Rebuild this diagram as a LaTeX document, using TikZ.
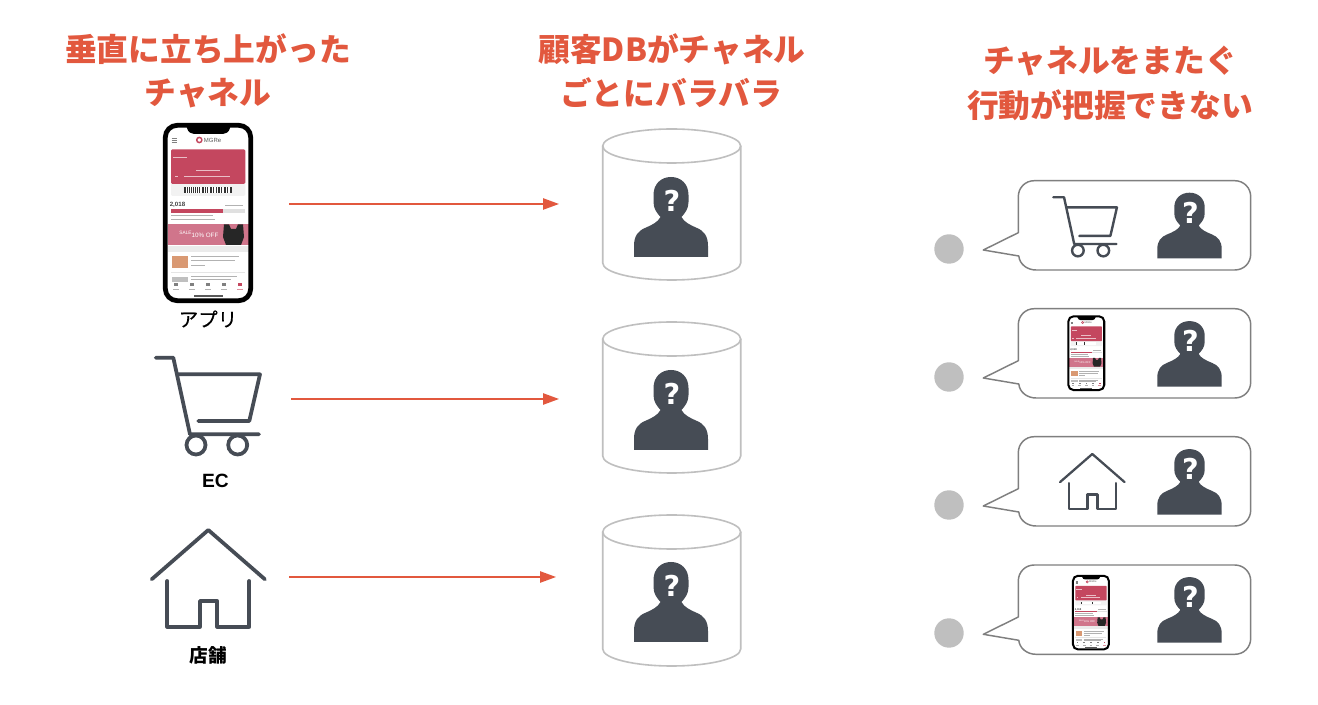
\documentclass[tikz,border=0pt]{standalone}
\usepackage{fontspec}
\usetikzlibrary{arrows.meta}
\newfontfamily\jpfont{Noto Sans CJK JP}
\newfontfamily\jpmedium[FakeBold=0.35]{Noto Sans CJK JP}
\newfontfamily\latinfont{Liberation Sans}
\newfontfamily\qfont{DejaVu Sans}
\definecolor{accent}{HTML}{E2583E}
\definecolor{inkdark}{HTML}{464C55}
\definecolor{cylgrey}{HTML}{BFBFBF}
\definecolor{bubblegrey}{HTML}{7F7F7F}
\definecolor{cardred}{HTML}{C4475F}
\definecolor{bannerpink}{HTML}{D0758B}
\newcommand{\phonescale}{1}
\tikzset{
  headline/.style={text=accent,font=\jpfont\bfseries\fontsize{23.8pt}{28pt}\selectfont,inner sep=0pt,anchor=center},
  channellabel/.style={text=black,inner sep=0pt,anchor=center},
  flow/.style={draw=accent,line width=1.1pt,-{Triangle[length=12pt,width=8.5pt]}},
  tinytext/.style={inner sep=0pt,transform shape,font=\latinfont\fontsize{4.5pt}{5pt}\selectfont},
  phoneline/.style={draw=black!30,line width=\phonescale*0.4pt},
}
% Silhouette with a question mark; origin at the centre of its base
\newcommand{\personfig}[5]{%
  \begin{scope}[shift={(#2,#3)},xscale=#4,yscale=#5]
    \fill[inkdark] (-37,0) -- (-37,-11)
      .. controls (-37,-21) and (-33,-26) .. (-26,-29)
      .. controls (-19,-32) and (-13,-35) .. (-10.5,-40)
      .. controls (-14,-44) and (-17.5,-48) .. (-17.5,-55)
      -- (-17.5,-62)
      .. controls (-17.5,-73) and (-10,-80) .. (0,-80)
      .. controls (10,-80) and (17.5,-73) .. (17.5,-62)
      -- (17.5,-55)
      .. controls (17.5,-48) and (14,-44) .. (10.5,-40)
      .. controls (13,-35) and (19,-32) .. (26,-29)
      .. controls (33,-26) and (37,-21) .. (37,-11)
      -- (37,0) -- cycle;
    \node[inner sep=0pt,text=white,font=\qfont\bfseries\fontsize{21.5pt}{24pt}\selectfont] (#1q) at (1,-56) {?};
  \end{scope}}
% Database cylinder; the argument is its vertical offset
\newcommand{\dbcylinder}[2]{%
  \begin{scope}[yshift=#2*-0.75pt]
    \draw[cylgrey,line width=1.2pt] (602.7,146) -- (602.7,263)
      arc[start angle=180,end angle=0,x radius=69,y radius=17] -- (740.7,146);
    \draw[cylgrey,line width=1.2pt] (671.7,146) ellipse[x radius=69,y radius=17];
  \end{scope}}
% Shopping cart; origin at the free end of the handle
\newcommand{\cartfig}[5]{%
  \begin{scope}[shift={(#2,#3)},scale=#4]
    \draw[inkdark,line width=#5,line cap=round,line join=round]
      (0,0) -- (17.6,0) -- (34.3,76.6) -- (103.3,76.6);
    \draw[inkdark,line width=#5,line cap=round,line join=round]
      (22,16.6) -- (104.3,16.6) -- (93.6,63.3) -- (42.6,63.3);
    \draw[inkdark,line width=#5] (40.3,87.3) circle[radius=9.5];
    \draw[inkdark,line width=#5] (82,87.3) circle[radius=9.5];
  \end{scope}}
% House outline; origin at the apex of the roof
\newcommand{\housefig}[5]{%
  \begin{scope}[shift={(#2,#3)},scale=#4]
    \draw[inkdark,line width=#5,line cap=round,line join=round]
      (-56.6,49.3) -- (0,0) -- (56.6,49.3);
    \draw[inkdark,line width=#5,line cap=round,line join=round]
      (-41,51) -- (-41,96.7) -- (-8.3,96.7) -- (-8.3,71) -- (9,71) -- (9,96.7) -- (41,96.7) -- (41,51);
  \end{scope}}
% Smartphone showing the membership app; origin at the top-left of the body
\newcommand{\phonefig}[4]{%
  \begin{scope}[shift={(#2,#3)},scale=#4]
    \renewcommand{\phonescale}{#4}
    \fill[white] (4,4) rectangle (86,176);
    % card
    \fill[black!5,rounded corners=#4*1pt] (8,50) rectangle (82.3,73);
    \fill[cardred,rounded corners=#4*1pt] (8,26.3) rectangle (82.3,61);
    \fill[black!80] (21.3,64.3) rectangle (68.7,70.3);
    \foreach \bx in {23,24.5,27,29,30.5,33,35,36.5,38,41,43,44.5,46,49,50.5,52,54,57,58.5,60,63,64.5,66}
      \fill[white] (\bx,64.3) rectangle ++(0.45,6);
    \foreach \by/\bx/\bw in {34/10/14, 47/33/24, 53/21/46, 53/12/3}
      \fill[white!65!cardred] (\bx,\by) rectangle ++(\bw,0.8);
    % header
    \draw[cardred,line width=#4*1.1pt] (36.3,17) circle[radius=2.6];
    \node[tinytext,text=black!65] (#1logo) at (49.5,17) {MGRe};
    \foreach \by in {15,17,19} \draw[black!50,line width=#4*0.3pt] (8.5,\by) -- (14,\by);
    % points
    \node[tinytext,text=black!75,font=\latinfont\bfseries\fontsize{4.6pt}{5pt}\selectfont] (#1pts) at (14.5,82.3) {2,018};
    \draw[phoneline] (62,82.3) -- (80,82.3);
    \fill[black!12] (8,86.3) rectangle (82.3,89.7);
    \fill[cardred] (8,86.3) rectangle (59.7,89.7);
    \draw[phoneline] (8,92.3) -- (50,92.3);
    \draw[phoneline] (8,96.3) -- (52,96.3);
    % banner
    \fill[bannerpink] (4.5,101.3) rectangle (85.5,122);
    \fill[black!85] (61,101.3) -- (66,101.3) -- (68,106) -- (73,106) -- (75,101.3) -- (80,101.3) -- (81,114) -- (78,122) -- (63,122) -- (60,114) -- cycle;
    \node[tinytext,text=white,font=\latinfont\fontsize{3.6pt}{4pt}\selectfont] (#1sale) at (22.5,110.3) {SALE};
    \node[tinytext,text=white,font=\latinfont\fontsize{4.7pt}{5pt}\selectfont] (#1off) at (42,112) {10\% OFF};
    % articles
    \fill[black!8] (4.5,123) rectangle (85.5,128.7);
    \fill[brown!60!pink] (8.7,132.7) rectangle (24.7,144.7);
    \foreach \by/\bw in {133.7/48, 137.7/44, 142.7/14}
      \draw[phoneline] (28,\by) -- ++(\bw,0);
    \draw[black!10,line width=#4*0.3pt] (8,149.3) -- (82,149.3);
    \fill[black!25] (8.7,153.7) rectangle (24.7,158.7);
    \draw[phoneline] (28,153) -- ++(46,0);
    \draw[phoneline] (28,156.5) -- ++(40,0);
    % tab bar
    \fill[white] (4.5,158.7) rectangle (85.5,171);
    \foreach \bx in {13,29.3,45.3,61.3}{
      \fill[black!50] (\bx-2,160) rectangle ++(4,3.4);
      \draw[black!30,line width=#4*0.3pt] (\bx-3,166.3) -- ++(6,0);}
    \fill[cardred] (75,160) rectangle ++(4,3.4);
    \draw[cardred!60,line width=#4*0.3pt] (74,166.3) -- ++(6,0);
    \draw[black!65,line width=#4*1.2pt] (31,173) -- (59.7,173);
    % body with notch
    \fill[black] (23.7,4) -- (67,4) -- (67,5)
      .. controls (66,9) and (63,11) .. (60,11) -- (31,11)
      .. controls (28,11) and (25,9) .. (24,5) -- cycle;
    \draw[black,line width=#4*3.6pt,rounded corners=#4*9pt] (2.3,2.3) rectangle (87.7,177.7);
  \end{scope}}
% Speech bubble; the argument is the vertical offset of the bubble
\newcommand{\bubblefig}[1]{%
  \begin{scope}[yshift=#1*-0.75pt]
    \draw[bubblegrey,line width=1.1pt,line join=round] (1018.3,232.7) -- (1018.3,196.7)
      .. controls (1018.3,188) and (1025,180.7) .. (1034.3,180.7) -- (1234.7,180.7)
      .. controls (1244,180.7) and (1250.7,188) .. (1250.7,196.7) -- (1250.7,254)
      .. controls (1250.7,263) and (1244,270) .. (1234.7,270) -- (1036,270)
      .. controls (1027,270) and (1019.5,264) .. (1018.8,256)
      -- (983.3,250) -- cycle;
  \end{scope}}
\begin{document}
\begin{tikzpicture}[x=0.75pt,y=-0.75pt]
  \useasboundingbox (0,0) rectangle (1318,705);
  \fill[white] (0,0) rectangle (1318,705);

  % column headings
  \node[headline] (h1a) at (208,49) {垂直に立ち上がった};
  \node[headline] (h1b) at (208,93) {チャネル};
  \node[headline] (h2a) at (672,49) {顧客DBがチャネル};
  \node[headline] (h2b) at (671,93) {ごとにバラバラ};
  \node[headline] (h3a) at (1110,61) {チャネルをまたぐ};
  \node[headline] (h3b) at (1110,105) {行動が把握できない};

  % channels on the left
  \phonefig{appphone}{163}{123}{1}
  \node[channellabel,font=\jpmedium\fontsize{14.6pt}{16pt}\selectfont] (applabel) at (208,319) {アプリ};
  \cartfig{eccart}{155.7}{357.7}{1}{2.8pt}
  \node[channellabel,font=\latinfont\bfseries\fontsize{14.4pt}{16pt}\selectfont] (eclabel) at (215.5,481) {EC};
  \housefig{shophouse}{208.3}{530}{1}{2.8pt}
  \node[channellabel,font=\jpfont\bfseries\fontsize{14pt}{16pt}\selectfont] (shoplabel) at (208,655) {店舗};

  % customer databases
  \dbcylinder{db1}{0}
  \dbcylinder{db2}{193}
  \dbcylinder{db3}{386}
  \personfig{dbp1}{671}{257}{1}{1}
  \personfig{dbp2}{671}{450}{1}{1}
  \personfig{dbp3}{671}{642}{1}{1}

  % flows from each channel to its database
  \coordinate (appout) at (289,204);
  \coordinate (appin) at (559,204);
  \coordinate (ecout) at (291,399);
  \coordinate (ecin) at (559,399);
  \coordinate (shopout) at (289,577);
  \coordinate (shopin) at (556,577);
  \draw[flow] (appout) -- (appin);
  \draw[flow] (ecout) -- (ecin);
  \draw[flow] (shopout) -- (shopin);

  % customer journeys on the right
  \foreach \cy in {249,377,505,633}
    \fill[cylgrey] (949,\cy) circle[radius=14.7];
  \bubblefig{0}
  \bubblefig{128}
  \bubblefig{256}
  \bubblefig{384.3}
  \cartfig{bcart}{1053.3}{197.3}{0.61}{1.8pt}
  \personfig{bp1}{1189.5}{258.3}{0.87}{0.82}
  \phonefig{bphonea}{1067.4}{315.4}{0.42}
  \personfig{bp2}{1189.5}{386.7}{0.87}{0.82}
  \housefig{bhouse}{1092.3}{454}{0.57}{1.7pt}
  \personfig{bp3}{1189.5}{514.7}{0.87}{0.82}
  \phonefig{bphoneb}{1072}{574.8}{0.42}
  \personfig{bp4}{1189.5}{642.7}{0.87}{0.82}
\end{tikzpicture}
\end{document}
